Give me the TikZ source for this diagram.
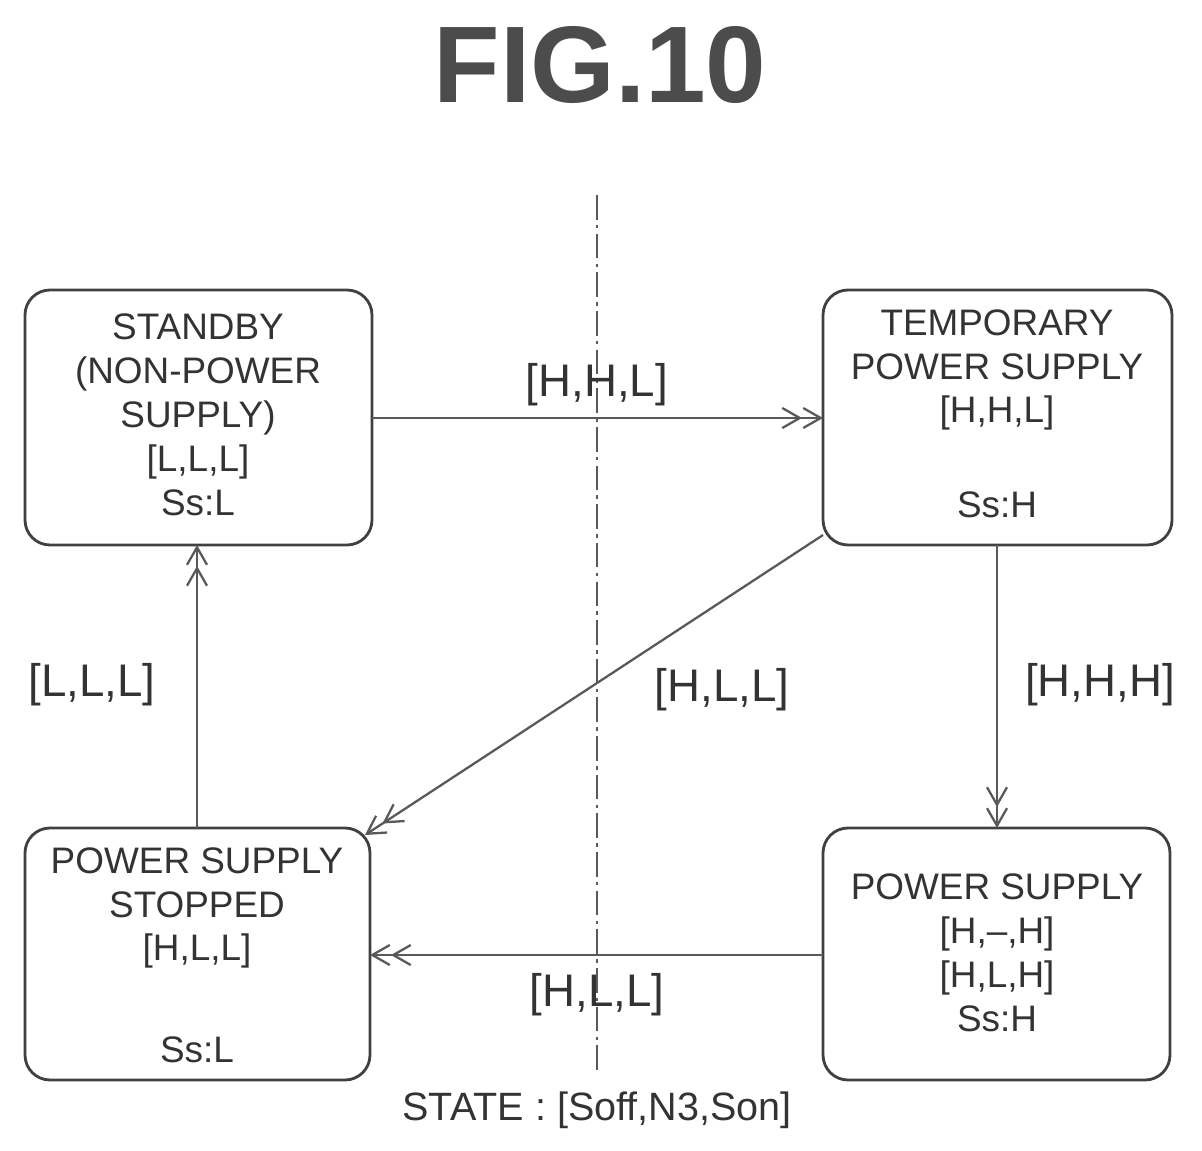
\documentclass[tikz,border=0pt]{standalone}
\usepackage{fontspec}
\setmainfont{Liberation Sans}
\usetikzlibrary{arrows.meta}
\begin{document}
\begin{tikzpicture}[x=0.02cm,y=-0.02cm,
  box/.style={draw=black!75,line width=1.6pt,rounded corners=0.5cm,fill=white},
  txt/.style={font=\fontsize{21}{25}\selectfont,text=black!80,align=center,inner sep=0pt},
  lbl/.style={font=\fontsize{26}{30}\selectfont,text=black!80,inner sep=0pt},
  arr/.style={draw=black!65,line width=1.3pt,-{Straight Barb[length=3.5mm,width=4mm]Straight Barb[length=3.5mm,width=4mm]}}]
\useasboundingbox (0,0) rectangle (1202,1151);
\node[font=\fontsize{62}{70}\selectfont\bfseries,text=black!70] (title) at (600,65) {FIG.10};
\coordinate (t1) at (597,195); \coordinate (t2) at (597,1075);
\draw[black!65,line width=1.3pt,dash pattern=on 14pt off 3pt on 2pt off 3pt] (t1) -- (t2);
\draw[box] (25,290) rectangle (372,545);
\draw[box] (823,290) rectangle (1172,545);
\draw[box] (25,828) rectangle (370,1080);
\draw[box] (823,828) rectangle (1170,1080);
\node[txt] (sb) at (198,415) {STANDBY\\(NON-POWER\\SUPPLY)\\{[L,L,L]}\\Ss:L};
\node[txt] (tp) at (997,370) {TEMPORARY\\POWER SUPPLY\\{[H,H,L]}};
\node[txt] (tps) at (997,505) {Ss:H};
\node[txt] (st) at (197,908) {POWER SUPPLY\\STOPPED\\{[H,L,L]}};
\node[txt] (sts) at (197,1050) {Ss:L};
\node[txt] (ps) at (997,953) {POWER SUPPLY\\{[H,--,H]}\\{[H,L,H]}\\Ss:H};
\coordinate (a1) at (372,418); \coordinate (a2) at (823,418);
\coordinate (b1) at (997,545); \coordinate (b2) at (997,828);
\coordinate (c1) at (823,535); \coordinate (c2) at (365,835);
\coordinate (d1) at (823,955); \coordinate (d2) at (370,955);
\coordinate (e1) at (197,828); \coordinate (e2) at (197,545);
\draw[arr] (a1) -- (a2);
\draw[arr] (b1) -- (b2);
\draw[arr] (c1) -- (c2);
\draw[arr] (d1) -- (d2);
\draw[arr] (e1) -- (e2);
\node[lbl] (l1) at (597,385) {[H,H,L]};
\node[lbl] (l2) at (1100,685) {[H,H,H]};
\node[lbl] (l3) at (722,690) {[H,L,L]};
\node[lbl] (l4) at (597,995) {[H,L,L]};
\node[lbl] (l5) at (92,685) {[L,L,L]};
\node[font=\fontsize{22.5}{27}\selectfont,text=black!80,inner sep=0pt] (state) at (597,1110) {STATE : [Soff,N3,Son]};
\end{tikzpicture}
\end{document}
